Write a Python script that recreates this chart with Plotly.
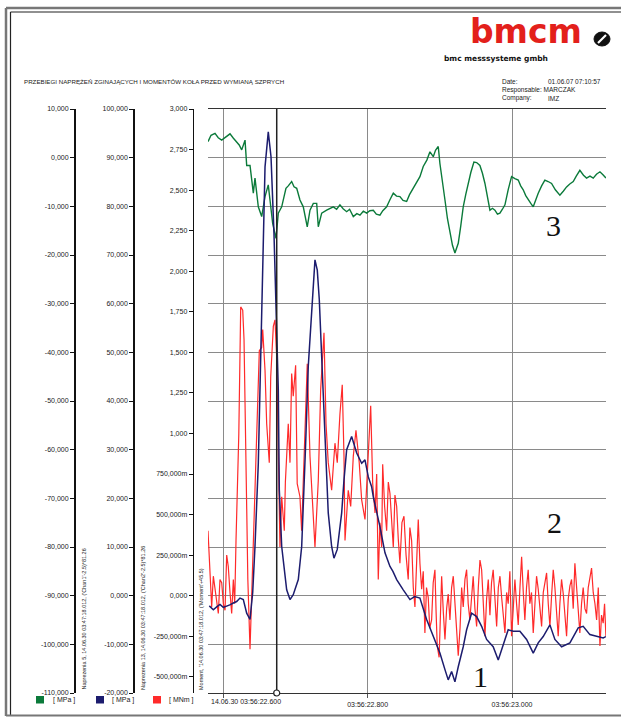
import plotly.graph_objects as go

# ---------------- data (time in ms after 03:56:22.000) ----------------
GREEN_T = [578.8, 583, 588.5, 593, 597.8, 603, 609.3, 614, 618.6, 622, 625.5, 630.1, 632.4, 637.0, 641.6,
           643.9, 648.5, 653.2, 657.8, 662.3, 664.7, 668.4, 673.0, 676.2, 680.9, 686.8, 690, 694.7, 698,
           701.7, 706.2, 710.8, 716.3, 720.1, 724.7, 729.4, 731.6, 736.3, 743.2, 748, 752.4, 757, 761.6,
           766, 770.9, 775, 780.1, 785, 789.3, 794, 798.6, 803, 807.8, 812, 817.0, 821, 826.3, 831, 835.5,
           840, 844.7, 849, 854.0, 858, 863.2, 868, 872.4, 877.0, 882, 886.3, 890.9, 894, 897.8, 900.1,
           903.5, 907.1, 910.5, 914.0, 917.5, 920.9, 925.5, 929, 932.4, 936, 939.3, 943, 947.2, 951,
           955.5, 959, 962.5, 966, 969.4, 972.9, 976.3, 979.8, 983.2, 986.7, 990.2, 994.8, 999.4, 1004,
           1008.6, 1012, 1015.5, 1019, 1022.4, 1026, 1029.4, 1033, 1036.3, 1041, 1045.5, 1050, 1054.8,
           1060, 1066.3, 1071, 1075.6, 1080, 1084.8, 1089, 1094.0, 1099, 1103.3, 1108, 1112.5, 1117,
           1121.8, 1126, 1130.1]
GREEN_V = [3.3, 4.6, 5.0, 4.1, 3.6, 4.2, 4.9, 4.0, 3.3, 2.6, 1.6, 3.6, -1.6, -1.6, -7.3,
           -4.2, -10.1, -12.1, -8.0, -5.6, -8.7, -13.5, -16.6, -11.4, -10.1, -6.3, -5.8, -4.9, -6.0,
           -6.3, -8.7, -10.1, -14.2, -10.8, -9.4, -9.4, -14.2, -11.4, -10.8, -10.4, -10.1, -10.6, -9.7,
           -10.5, -11.1, -10.6, -12.1, -11.5, -11.8, -11.0, -11.4, -10.9, -10.8, -11.6, -11.8, -10.9, -10.1, -8.6, -7.3,
           -7.9, -8.0, -8.8, -9.0, -7.6, -6.3, -5.0, -3.9, -1.8, -0.5, 1.2, 0.2, 1.5, 2.3, -1.2,
           -4.5, -8.7, -12.5, -15.5, -18.0, -19.6, -17.6, -14.0, -10.1, -7.5, -5.3, -3.0, -0.9, -1.0,
           -1.6, -3.2, -5.3, -8.2, -10.8, -10.4, -10.8, -11.6, -11.4, -10.6, -9.7, -6.5, -3.9, -4.3,
           -4.6, -5.8, -6.6, -7.8, -8.7, -9.4, -10.1, -8.6, -7.3, -5.8, -4.6, -4.9, -5.3,
           -6.6, -7.7, -6.9, -6.0, -5.4, -4.9, -3.8, -2.6, -3.6, -4.2, -3.8, -4.2, -3.4,
           -2.9, -3.5, -4.2]

BLUE_T = [580.6, 586.2, 590.8, 595.4, 600, 604.7, 609, 613.9, 618.5, 623.1, 627.7, 632.4, 637.0, 640.7,
          643.9, 648.5, 652.2, 654.3, 657.8, 662.3, 666.1, 670.2, 673.0, 676.2, 677.6, 680.9, 687.8,
          692.4, 696.9, 703.9, 708.6, 711.1, 713.8, 717.7, 722.4, 727.0, 730.2, 733.0, 736.3, 740.9,
          743.2, 745.4, 750.1, 753.3, 757.9, 764.0, 767.2, 770.9, 777.8, 784.8, 791.7, 796.3, 800.9,
          805.5, 807.8, 812, 817.0, 824.0, 830.9, 835, 840.2, 849.3, 858.6, 865, 872.4, 881.7, 890.9,
          900.1, 907.1, 911.6, 916.3, 920.9, 925.5, 932.4, 937.1, 944.0, 951.0, 957.9, 964.8, 973.9,
          980.9, 985.6, 990.2, 994.7, 1001.7, 1010.9, 1020.2, 1029.4, 1036.3, 1043.2, 1052.5, 1059.4,
          1068.7, 1080.2, 1091.7, 1098.6, 1107.9, 1117.2, 1126.3, 1130.1]
BLUE_V = [-2.1, -2.9, -2.3, -1.8, -2.4, -2.2, -1.9, -1.5, -1.2, -0.5, -0.8, -3.6, -4.9, 0.6,
          10.1, 27.2, 50.0, 63.0, 88.1, 95.3, 90.2, 74.5, 60.8, 42.3, 21.7, 10.1, 1.2,
          -0.8, 0.2, 3.3, 10.1, 22.0, 30.0, 47.1, 59.4, 69.0, 66.9, 60.8, 49.1, 32.1,
          21.7, 17.0, 10.1, 7.7, 9.5, 17.0, 23.8, 30.0, 32.7, 29.3, 27.2, 27.9, 24.4,
          22.4, 20.3, 17.5, 14.2, 8.8, 6.0, 5.0, 3.3, 1.2, -0.8, -0.2, -0.5, -4.9, -8.4,
          -11.8, -15.2, -17.3, -15.6, -17.7, -14.6, -10.5, -7.0, -3.6, -4.3, -6.3, -9.0, -10.5,
          -13.2, -11.1, -9.4, -7.0, -7.3, -7.3, -9.0, -11.8, -9.7, -8.4, -6.0, -9.0,
          -10.5, -9.7, -6.6, -6.3, -8.0, -8.4, -8.7, -8.4]

RED_T = [578.8, 580.6, 582.2, 583.9, 586.2, 588.5, 590.8, 593.1, 595.4, 597.8, 600.1, 602.4, 604.7,
         606.9, 609.3, 611.6, 613.9, 615.8, 617.6, 619.9, 621.5, 624.1, 626.9, 628.7, 631.4, 634,
         637.0, 641.6, 646.3, 649.9, 653.2, 654.6, 657.8, 660.1, 663.7, 665.7, 669.3, 671.6, 674.0,
         676.2, 678.5, 680.9, 684.5, 686, 690.0, 692.4, 694.7, 696.9, 700.2, 702.4, 706.2, 708.5,
         710.8, 713.2, 716.3, 720.1, 723.5, 727.0, 731.6, 734.9, 739.5, 742.3, 745.4, 750.1, 754.7,
         757.9, 761.6, 764.8, 767.2, 768.6, 773.1, 776.5, 780.1, 783.8, 788.3, 791.7, 796.3, 800.9,
         804.2, 807.0, 810.2, 812.5, 814.7, 817, 819.4, 820.8, 823.5, 826.3, 828.6, 830.9, 833.2,
         835.5, 837.8, 840.2, 842.4, 844.7, 847.5, 850.3, 853.2, 856.2, 858.5, 860.9, 863.2, 865.5,
         867.8, 870.1, 872.4, 874.8, 877, 879.3, 881.5, 883.9, 886, 888.6, 890.8, 893.2, 894.8,
         896.4, 899, 900.8, 902.5, 904.8, 907.1, 909.4, 911.6, 914, 916.3, 918.6, 921, 923.3, 925.5,
         928, 930.2, 932.4, 934.8, 937.1, 939.3, 941.6, 944, 946.2, 948.6, 951.0, 953.3, 955.6,
         957.9, 960.2, 962.5, 964.8, 967.1, 969.4, 971.6, 973.9, 976.3, 978.7, 981, 983.3, 985.6,
         987.9, 990.2, 992.5, 994.7, 997, 999.4, 1001.7, 1004, 1006.3, 1008.6, 1011, 1013.3, 1015.6,
         1017.8, 1020.1, 1022.4, 1024.7, 1027, 1029.4, 1031.7, 1034, 1036.3, 1038.6, 1041.0, 1043.3,
         1045.6, 1047.9, 1050.2, 1052.5, 1054.8, 1057.1, 1059.4, 1061.7, 1064.0, 1066.3, 1068.6,
         1071.0, 1073.3, 1075.6, 1077.9, 1080.2, 1082.5, 1084.8, 1087.1, 1089.4, 1091.7, 1094.0,
         1096.3, 1098.6, 1101, 1103.3, 1105.6, 1107.9, 1110.2, 1112.5, 1114.9, 1117.2, 1119.5,
         1121.8, 1124, 1126.3, 1128.2, 1130.1]
RED_V = [0.40, 0.24, 0.05, -0.07, 0.12, 0.04, -0.05, -0.11, 0.10, 0.08, -0.05, -0.09, 0.25,
         0.18, 0.02, -0.11, 0.10, -0.05, 0.34, 0.71, 1.00, 1.78, 1.76, 1.58, 0.73, 0.10,
         -0.33, 0.30, 0.90, 1.51, 1.53, 1.64, 1.39, 1.06, 0.82, 1.35, 1.66, 1.70, 1.47,
         0.96, 0.30, 0.61, 0.40, 0.70, 1.06, 0.82, 1.37, 1.23, 1.42, 0.69, 0.61, 0.40,
         0.71, 1.12, 1.43, 0.86, 0.55, 0.30, 0.71, 1.27, 1.62, 1.06, 0.82, 0.65, 0.94,
         0.82, 1.12, 1.30, 0.86, 0.34, 0.65, 0.55, 0.86, 1.02, 0.82, 0.59, 0.47, 0.90,
         1.17, 0.69, 0.51, 0.75, 0.10, 0.45, 0.30, 0.81, 0.55, 0.40, 0.70, 0.63, 0.42,
         0.30, 0.62, 0.55, 0.35, 0.20, 0.45, 0.49, 0.25, 0.10, 0.42, 0.34, 0.05, -0.07,
         0.20, 0.47, 0.20, 0.04, 0.15, -0.23, 0.05, -0.01, -0.20, -0.15, 0.08, 0.16, -0.10,
         -0.31, -0.38, -0.05, 0.12, -0.10, -0.27, -0.08, 0.01, -0.15, 0.05, 0.12, -0.05, -0.19, -0.37,
         -0.20, 0.05, -0.07, 0.10, 0.16, -0.05, -0.15, 0.02, 0.12, -0.08, -0.19, 0.05, 0.22,
         0.16, -0.05, -0.25, -0.02, 0.10, -0.12, 0.08, 0.16, -0.02, -0.19, 0.05, 0.12, -0.01,
         -0.15, -0.23, 0.02, -0.05, 0.15, -0.25, -0.08, 0.10, -0.05, -0.18, 0.05, 0.24, 0.02,
         -0.15, 0.05, 0.16, -0.05, 0.02, -0.23, -0.05, 0.12, 0.04, -0.10, -0.19, 0.02,
         0.08, 0.14, -0.05, -0.19, 0.00, 0.16, 0.05, -0.12, -0.25, -0.05, 0.10,
         0.01, -0.15, -0.25, -0.02, 0.06, 0.10, -0.08, 0.20, 0.05, -0.12, -0.23,
         -0.05, 0.05, -0.08, -0.11, 0.05, 0.12, 0.17, 0.02, -0.05, -0.15, 0.05,
         -0.31, -0.12, -0.17, -0.05, -0.25]

CURSOR_T = 674.0
X_TICKS = [600, 800, 1000]
X_TICKTEXT = ["", "03:56:22.800", "03:56:23.000"]
FIRST_XLABEL = "14.06.30 03:56:22.600"

Y1_TICKS = [10, 0, -10, -20, -30, -40, -50, -60, -70, -80, -90, -100, -110]
Y1_TEXT = ["10,000", "0,000", "-10,000", "-20,000", "-30,000", "-40,000", "-50,000", "-60,000",
           "-70,000", "-80,000", "-90,000", "-100,000", "-110,000"]
Y2_TICKS = [100, 90, 80, 70, 60, 50, 40, 30, 20, 10, 0, -10, -20]
Y2_TEXT = ["100,000", "90,000", "80,000", "70,000", "60,000", "50,000", "40,000", "30,000",
           "20,000", "10,000", "0,000", "-10,000", "-20,000"]
Y3_TICKS = [3.0, 2.75, 2.5, 2.25, 2.0, 1.75, 1.5, 1.25, 1.0, 0.75, 0.5, 0.25, 0.0, -0.25, -0.5]
Y3_TEXT = ["3,000", "2,750", "2,500", "2,250", "2,000", "1,750", "1,500", "1,250", "1,000",
           "750,000m", "500,000m", "250,000m", "0,000", "-250,000m", "-500,000m"]

TITLE = "PRZEBIEGI NAPRĘŻEŃ ZGINAJĄCYCH I MOMENTÓW KOŁA PRZED WYMIANĄ SZPRYCH"
AXIS_TITLES = ["Naprezenia 5, 14.06.30 03:47:18.012, ('Chan1'-2.5)*81.26",
               "Naprezenia 13, 14.06.30 03:47:18.012, ('Chan2'-2.5)*81.26",
               "Moment, '14.06.30 03:47:18.012, ('Moment'+45.5)"]
UNITS = ["[ MPa ]", "[ MPa ]", "[ MNm ]"]

GREEN = "#0b7a3a"
NAVY = "#1c1c6e"
RED = "#ff2a2a"

# ---------------- geometry ----------------
W, H = 621, 717
PT, PB = 109, 693  # plot top / bottom in px
def fx(x):
    return x / W
def fy(y):
    return (PB - y) / (PB - PT)

FONT = "Liberation Sans, Arial, sans-serif"
TXT = "#1a1a1a"

fig = go.Figure()
fig.add_trace(go.Scatter(x=GREEN_T, y=GREEN_V, mode="lines", yaxis="y",
                         line=dict(color=GREEN, width=1.4), showlegend=False, hoverinfo="skip"))
fig.add_trace(go.Scatter(x=RED_T, y=RED_V, mode="lines", yaxis="y2",
                         line=dict(color=RED, width=1.2), showlegend=False, hoverinfo="skip"))
fig.add_trace(go.Scatter(x=BLUE_T, y=BLUE_V, mode="lines", yaxis="y3",
                         line=dict(color=NAVY, width=1.5), showlegend=False, hoverinfo="skip"))

common_y = dict(showline=True, linecolor="#111", linewidth=1.5, ticks="outside", ticklen=4,
                tickcolor="#111", tickwidth=1, zeroline=False, side="left",
                tickfont=dict(family=FONT, size=7, color=TXT), fixedrange=True)

fig.update_layout(
    width=W, height=H, paper_bgcolor="white", plot_bgcolor="white",
    margin=dict(l=0, r=0, t=PT, b=H - PB, pad=0),
    showlegend=False,
    xaxis=dict(domain=[fx(208), fx(606)], range=[578.8, 1130.2], tickvals=X_TICKS, ticktext=X_TICKTEXT,
               showgrid=True, gridcolor="#8a8a8a", gridwidth=1, zeroline=False,
               showline=True, mirror=True, linecolor="#333", linewidth=1.2,
               ticks="outside", ticklen=4, tickcolor="#555", fixedrange=True,
               tickfont=dict(family=FONT, size=7, color=TXT)),
    yaxis=dict(anchor="free", position=fx(74), range=[-110, 10], tickvals=Y1_TICKS, ticktext=Y1_TEXT,
               showgrid=True, gridcolor="#8a8a8a", gridwidth=1, **common_y),
    yaxis2=dict(anchor="free", position=fx(192.7), overlaying="y", range=[-0.6, 3.0],
                tickvals=Y3_TICKS, ticktext=Y3_TEXT, showgrid=False, **common_y),
    yaxis3=dict(anchor="free", position=fx(133.3), overlaying="y", range=[-20, 100],
                tickvals=Y2_TICKS, ticktext=Y2_TEXT, showgrid=False, **common_y),
    yaxis4=dict(anchor="x", overlaying="y", range=[0, 1], showline=True, mirror=True,
                linecolor="#333", linewidth=1.2, showticklabels=False, ticks="", showgrid=False,
                zeroline=False, fixedrange=True),
)

shapes = []
# cursor
shapes.append(dict(type="line", xref="x", yref="paper", x0=CURSOR_T, x1=CURSOR_T, y0=0, y1=1,
                   line=dict(color="#222", width=1.5)))
shapes.append(dict(type="circle", xref="x", yref="paper", xsizemode="pixel", ysizemode="pixel",
                   xanchor=CURSOR_T, yanchor=0, x0=-3, x1=3, y0=-3, y1=3,
                   fillcolor="white", line=dict(color="#222", width=1.2)))
# page frame
shapes.append(dict(type="line", xref="paper", yref="paper", x0=fx(6), x1=fx(6), y0=fy(8), y1=fy(716),
                   line=dict(color="#777", width=2.5)))
shapes.append(dict(type="line", xref="paper", yref="paper", x0=fx(6), x1=1, y0=fy(8), y1=fy(8),
                   line=dict(color="#777", width=2.5)))
shapes.append(dict(type="line", xref="paper", yref="paper", x0=fx(10.5), x1=fx(10.5), y0=fy(12), y1=fy(715),
                   line=dict(color="#222", width=1.2)))
shapes.append(dict(type="line", xref="paper", yref="paper", x0=fx(10.5), x1=1, y0=fy(12), y1=fy(12),
                   line=dict(color="#222", width=1.2)))
shapes.append(dict(type="line", xref="paper", yref="paper", x0=fx(6), x1=1, y0=fy(715.5), y1=fy(715.5),
                   line=dict(color="#777", width=2)))
# logo icon
shapes.append(dict(type="circle", xref="paper", yref="paper", x0=fx(594), x1=fx(610), y0=fy(32), y1=fy(46),
                   fillcolor="#111", line=dict(color="#111", width=1)))
shapes.append(dict(type="line", xref="paper", yref="paper", x0=fx(598), x1=fx(606), y0=fy(43), y1=fy(35),
                   line=dict(color="white", width=2.2)))
# legend squares
for x0, c in [(36, GREEN), (96, NAVY), (153, RED)]:
    shapes.append(dict(type="rect", xref="paper", yref="paper", x0=fx(x0), x1=fx(x0 + 8),
                       y0=fy(696), y1=fy(703.5), fillcolor=c, line=dict(width=0)))
fig.update_layout(shapes=shapes)

ann = []
def text(x, y, s, size=7, xanchor="left", yanchor="middle", color=TXT, family=FONT, angle=0):
    ann.append(dict(xref="paper", yref="paper", x=fx(x), y=fy(y), text=s, showarrow=False,
                    xanchor=xanchor, yanchor=yanchor, textangle=angle,
                    font=dict(family=family, size=size, color=color)))

text(22, 82, TITLE, size=6.2)
text(500, 82, "Date:", size=6.5)
text(546, 82, "01.06.07 07:10:57", size=6.5)
text(500, 90, "Responsable: MARCZAK", size=6.5)
text(500, 98, "Company:", size=6.5)
text(546, 98, "IMZ", size=6.5)
text(468, 53, "<b>bmcm</b>", size=33, color="#e3201b", family="DejaVu Sans, sans-serif", yanchor="bottom")
text(442, 58.5, "<b>bmc messsysteme gmbh</b>", size=7.5, color="#111", family="DejaVu Sans, sans-serif")
text(209, 701, FIRST_XLABEL, size=7)
for x, s in zip([83, 143, 201], AXIS_TITLES):
    text(x, 692, s, size=5.5, xanchor="center", yanchor="bottom", angle=-90)
for x, s in zip([51, 110, 167], UNITS):
    text(x, 700, s, size=7)
text(480, 676, "1", size=30, xanchor="center", color="#111", family="Liberation Serif, serif")
text(554, 522, "2", size=30, xanchor="center", color="#111", family="Liberation Serif, serif")
text(553, 225, "3", size=30, xanchor="center", color="#111", family="Liberation Serif, serif")
fig.update_layout(annotations=ann)

fig.write_html("out.html", config={"displayModeBar": False, "staticPlot": True},
               post_script="document.body.style.margin='0px';")
